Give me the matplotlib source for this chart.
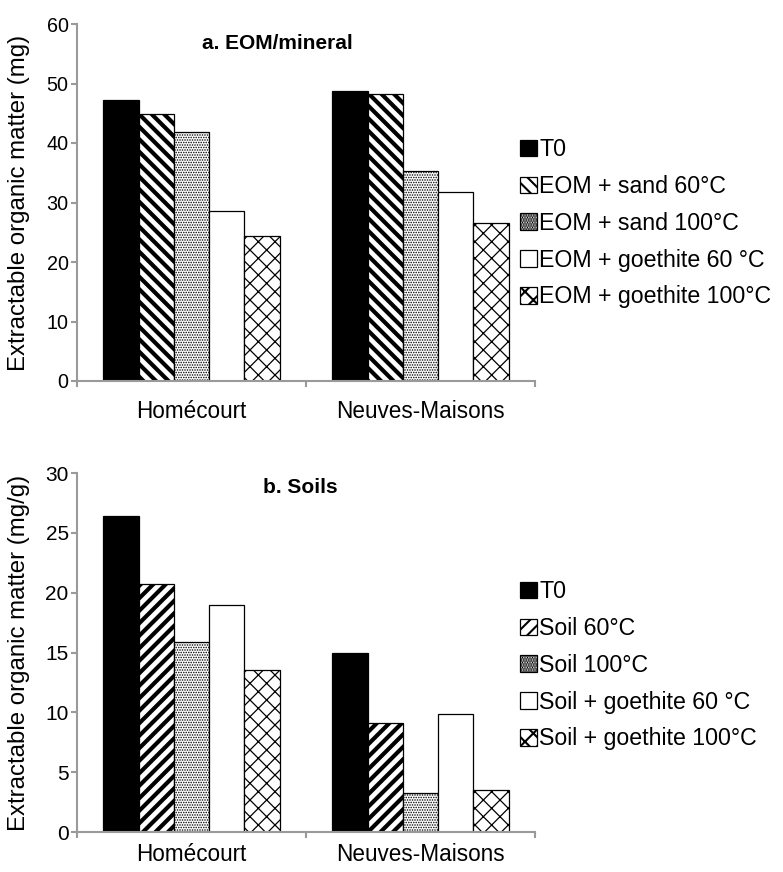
import numpy as np
import matplotlib
matplotlib.use("Agg")
import matplotlib.pyplot as plt
from matplotlib.ticker import FixedLocator

plt.rcParams['font.family'] = ['Liberation Sans', 'DejaVu Sans']

sites = ['Homécourt', 'Neuves-Maisons']

# panel a: EOM/mineral (mg)
labels_a = ['T0', 'EOM + sand 60°C', 'EOM + sand 100°C',
            'EOM + goethite 60 °C', 'EOM + goethite 100°C']
eom_t0 = [47.2, 48.7]
eom_sand60 = [44.9, 48.2]
eom_sand100 = [41.8, 35.3]
eom_goe60 = [28.6, 31.8]
eom_goe100 = [24.4, 26.5]

# panel b: soils (mg/g)
labels_b = ['T0', 'Soil 60°C', 'Soil 100°C',
            'Soil + goethite 60 °C', 'Soil + goethite 100°C']
soil_t0 = [26.4, 15.0]
soil_60 = [20.7, 9.1]
soil_100 = [15.9, 3.3]
soil_goe60 = [19.0, 9.9]
soil_goe100 = [13.5, 3.5]

DPI = 150
fig = plt.figure(figsize=(783 / DPI, 872 / DPI), dpi=DPI)

W, H = 783, 872
def axes_px(x0, y0, x1, y1):
    return fig.add_axes([x0 / W, 1 - y1 / H, (x1 - x0) / W, (y1 - y0) / H])

ax_a = axes_px(77, 24, 535, 381)
ax_b = axes_px(77, 473, 535, 832)

grey = '#9a9a9a'
width = 1 / 6.5


def draw_panel(ax, series, labels, hatches, ymax, ystep, ylabel, title, title_xy,
               tick_fs, leg_y, xpad):
    x = np.arange(len(sites))
    handles = []
    for i, (vals, lab, (fc, hatch, hlw)) in enumerate(zip(series, labels, hatches)):
        bars = ax.bar(x + (i - 2) * width, vals, width, color=fc, edgecolor='black',
                      linewidth=0.6, hatch=hatch, label=lab, zorder=2)
        for b in bars:
            if hasattr(b, 'set_hatch_linewidth'):
                b.set_hatch_linewidth(hlw)
        handles.append(bars)

    ax.set_xlim(-0.5, 1.5)
    ax.set_ylim(0, ymax)
    ax.set_yticks(np.arange(0, ymax + 0.1, ystep))
    ax.set_xticks(x)
    ax.set_xticklabels(sites, fontsize=10.8)
    ax.xaxis.set_minor_locator(FixedLocator([-0.5, 0.5, 1.5]))
    ax.tick_params(axis='x', which='major', length=0, pad=xpad)
    ax.tick_params(axis='x', which='minor', length=3, width=1, color=grey, direction='out')
    ax.tick_params(axis='y', length=3, width=1, color=grey, pad=1, labelsize=tick_fs)
    for s in ['top', 'right']:
        ax.spines[s].set_visible(False)
    for s in ['left', 'bottom']:
        ax.spines[s].set_color(grey)
        ax.spines[s].set_linewidth(1.0)
    ax.set_ylabel(ylabel, fontsize=11.5)
    ax.yaxis.set_label_coords(-0.102, 0.5)
    ax.text(title_xy[0], title_xy[1], title, transform=ax.transAxes, ha='center',
            va='center', fontsize=10, fontweight='bold')

    fig.legend(handles=handles, labels=labels, loc='upper left',
               bbox_to_anchor=(520 / W, 1 - leg_y / H), frameon=False,
               fontsize=11.1, handlelength=0.72, handleheight=0.72,
               handletextpad=0.12, labelspacing=0.6, borderpad=0,
               borderaxespad=0)


styles = [('black', None, 1.0),
          ('white', '\\\\\\\\', 2.0),
          ('white', '.' * 10, 0.5),
          ('white', None, 1.0),
          ('white', 'xxx', 0.6)]
styles_b = [('black', None, 1.0),
            ('white', '////', 2.0),
            ('white', '.' * 10, 0.5),
            ('white', None, 1.0),
            ('white', 'xxx', 0.6)]

draw_panel(ax_a, [eom_t0, eom_sand60, eom_sand100, eom_goe60, eom_goe100],
           labels_a, styles, 60, 10, 'Extractable organic matter (mg)',
           'a. EOM/mineral', (0.437, 0.944), 9.5, 138, 9)
draw_panel(ax_b, [soil_t0, soil_60, soil_100, soil_goe60, soil_goe100],
           labels_b, styles_b, 30, 5, 'Extractable organic matter (mg/g)',
           'b. Soils', (0.487, 0.961), 10, 580, 5.5)

fig.savefig('out.png', dpi=DPI)
